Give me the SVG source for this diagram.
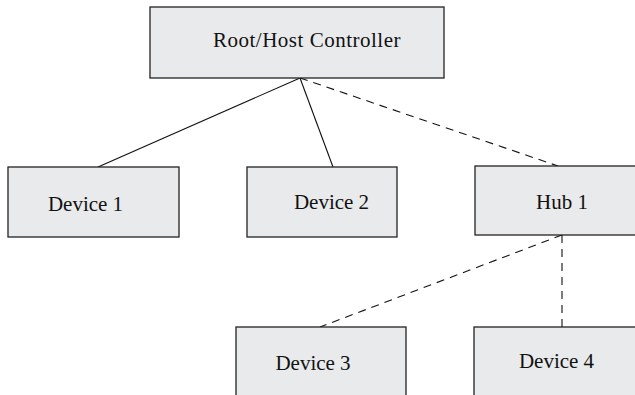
<svg xmlns="http://www.w3.org/2000/svg" width="635" height="395" viewBox="0 0 635 395">
<style>
.box{fill:#e9eaeb;stroke:#222;stroke-width:1.3}
.lbl{font-family:"Liberation Serif",serif;font-size:21px;fill:#111;text-anchor:middle}
.c{stroke:#111;stroke-width:1.1;fill:none}
.d{stroke-dasharray:8,6}
</style>
<rect width="635" height="395" fill="#fff"/>
<g id="connectors">
<line class="c" x1="300" y1="78" x2="98" y2="167"/>
<line class="c" x1="300" y1="78" x2="333" y2="167"/>
<line class="c d" x1="300" y1="78" x2="558" y2="166"/>
<line class="c d" x1="562" y1="235" x2="320" y2="327"/>
<line class="c d" x1="562" y1="235" x2="562" y2="327"/>
</g>
<g id="root"><rect class="box" x="150" y="7" width="294" height="71"/><text class="lbl" x="307" y="47" letter-spacing="0.5">Root/Host Controller</text></g>
<g id="device1"><rect class="box" x="8" y="167" width="171" height="70"/><text class="lbl" x="85.5" y="211">Device 1</text></g>
<g id="device2"><rect class="box" x="247" y="167" width="150" height="70"/><text class="lbl" x="331.5" y="209">Device 2</text></g>
<g id="hub1"><rect class="box" x="475" y="166" width="165" height="69"/><text class="lbl" x="562" y="209">Hub 1</text></g>
<g id="device3"><rect class="box" x="236" y="327" width="170" height="80"/><text class="lbl" x="313" y="370">Device 3</text></g>
<g id="device4"><rect class="box" x="474" y="327" width="170" height="80"/><text class="lbl" x="556.5" y="368">Device 4</text></g>
</svg>
